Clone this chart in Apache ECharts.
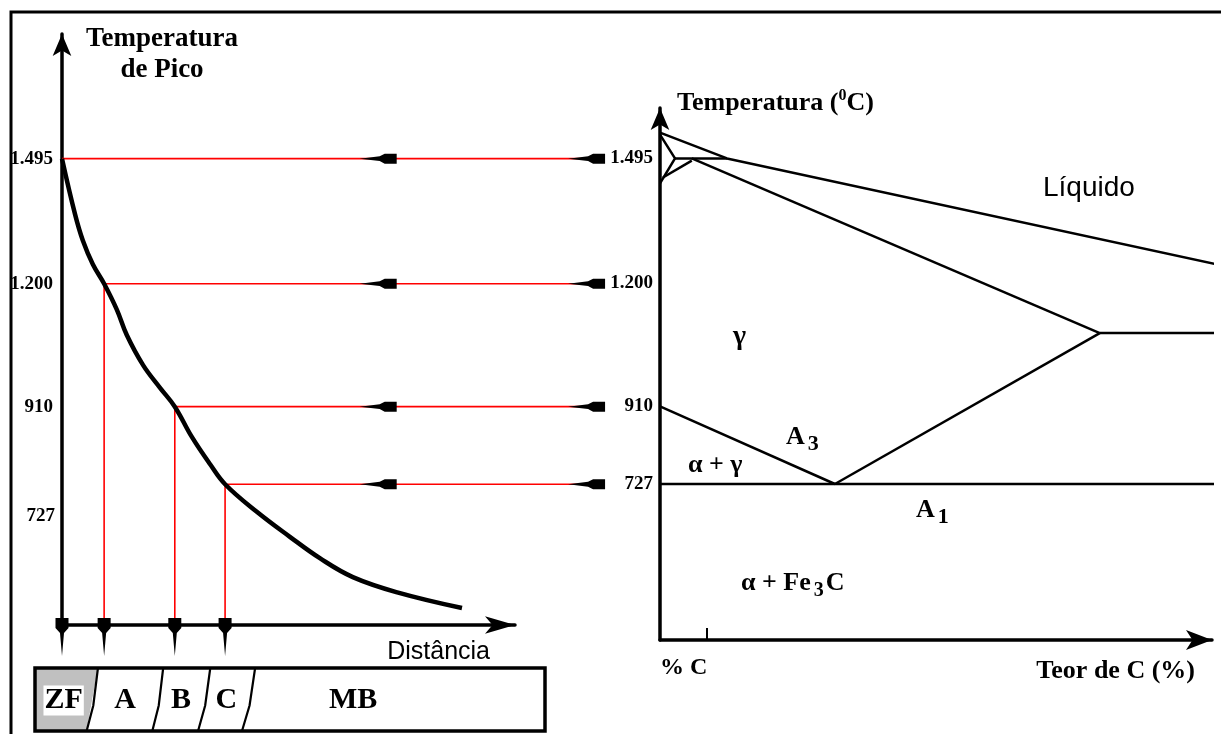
<!DOCTYPE html>
<html><head><meta charset="utf-8">
<script src="https://cdn.jsdelivr.net/npm/echarts@6/dist/echarts.min.js"></script>
<style>html,body{margin:0;padding:0;background:#fff}#c{width:1221px;height:734px}</style>
</head><body><div id="c"></div>
<script>
// ---------------- data ----------------
// temperature levels (°C) marked on both temperature axes
const tempLevels = [727, 910, 1200, 1495];
// distance (arbitrary units) where the peak-temperature curve reaches each level
const levelDistance = [36.0, 24.9, 9.3, 0];
// peak temperature vs distance from the fusion line
const curveDistance = [0, 2.9, 4.6, 6.8, 9.3, 12.1, 14.3, 17.9, 21.6, 24.9, 28.7, 32.7, 36.0, 43.0, 50.3, 57.0, 64.2, 74.0, 88.3];
const curvePeakTemp = [1495, 1363, 1302, 1246, 1200, 1139, 1079, 1008, 955, 910, 838, 774, 727, 662, 603, 552, 508, 472, 435];
// weld zones (distance of zone borders at top and bottom of the strip)
const zoneNames = ['ZF', 'A', 'B', 'C', 'MB'];
const zoneEdgeTop = [-6.0, 7.9, 22.3, 32.7, 42.6, 106.6];
const zoneEdgeBottom = [-6.0, 5.4, 19.9, 30.0, 39.7, 106.6];
// Fe-C diagram boundaries [%C, °C] (schematic)
const liquidus = [[0, 1556], [0.295, 1495], [2.47, 1243]];
const deltaLimit = [[0, 1551], [0.066, 1495], [0, 1436]];
const deltaGammaLimit = [[0.013, 1450], [0.14, 1490]];
const peritectic = [[0.066, 1495], [0.295, 1495]];
const solidus = [[0.14, 1495], [1.936, 1083]];
const eutectic = [[1.936, 1083], [2.47, 1083]];
const acm = [[0.77, 727], [1.936, 1083]];
const a3 = [[0, 910], [0.77, 727]];
const a1 = [[0, 727], [2.47, 727]];

// ---------------- rendering ----------------
const SERIF = 'Liberation Serif', SANS = 'Liberation Sans';
const LEFT_MIN = 395, LEFT_MAX = 1789, RIGHT_MIN = 359, RIGHT_MAX = 1614;
const GUIDE_END = 119.4, ARROW_AT = [69.8, 115.8];
const fmtT = v => v >= 1000 ? Math.floor(v / 1000) + '.' + String(v % 1000).padStart(3, '0') : String(v);
const tickFont = { fontFamily: SERIF, fontWeight: 'bold', fontSize: 19, color: '#000' };
const LEFT_ARROW = 'path://M0,5 L20,2.6 L25,0 L37,0 L37,10 L25,10 L20,7.4 Z';
const DOWN_ARROW = 'path://M0,0 L13,0 L13,10 L8.5,15 L6.5,38 L4.5,15 L0,10 Z';

const chart = echarts.init(document.getElementById('c'));

const feC = { liquidus, deltaLimit, deltaGammaLimit, peritectic, solidus, eutectic, acm, a3, a1 };
const feSeries = Object.keys(feC).map(k => ({
  type: 'line', name: k, xAxisIndex: 1, yAxisIndex: 2, data: feC[k], clip: false,
  showSymbol: false, symbol: 'none', silent: true, z: 4,
  lineStyle: { color: '#000', width: 2.5 }
}));

const option = {
  animation: false,
  textStyle: { fontFamily: SERIF },
  grid: [
    { left: 62, top: 34, width: 453, height: 591, containLabel: false, outerBoundsMode: 'none' },
    { left: 660, top: 108, width: 552, height: 532, containLabel: false, outerBoundsMode: 'none' },
    { left: 35, top: 668, width: 510, height: 63, containLabel: false, outerBoundsMode: 'none' }
  ],
  xAxis: [
    { gridIndex: 0, type: 'value', min: 0, max: 100,
      axisLine: { onZero: false, symbol: ['none', 'arrow'], symbolSize: [13, 30], lineStyle: { color: '#000', width: 3.5 } },
      axisTick: { show: false }, axisLabel: { show: false }, splitLine: { show: false },
      name: 'Distância', nameLocation: 'end', nameGap: -25,
      nameTextStyle: { fontFamily: SANS, fontSize: 25, color: '#000', align: 'right', verticalAlign: 'top', padding: [15, 0, 0, 0] } },
    { gridIndex: 1, type: 'value', min: 0, max: 2.43,
      axisLine: { onZero: false, symbol: ['none', 'arrow'], symbolSize: [15, 26], lineStyle: { color: '#000', width: 3.5 } },
      axisTick: { show: true, inside: true, length: 12, customValues: [0.207], lineStyle: { color: '#000', width: 2 } },
      axisLabel: { customValues: [0], formatter: () => '% C', align: 'left', margin: 16, fontFamily: SERIF, fontWeight: 'bold', fontSize: 24, color: '#000' },
      splitLine: { show: false },
      name: 'Teor de C (%)', nameLocation: 'end', nameGap: -17,
      nameTextStyle: { fontFamily: SERIF, fontWeight: 'bold', fontSize: 26, color: '#000', align: 'right', verticalAlign: 'top', padding: [18, 0, 0, 0] } },
    { gridIndex: 2, type: 'value', min: -6.0, max: 106.6, show: false }
  ],
  yAxis: [
    { gridIndex: 0, type: 'value', min: LEFT_MIN, max: LEFT_MAX, position: 'left',
      axisLine: { onZero: false, symbol: ['none', 'arrow'], symbolSize: [14, 22], lineStyle: { color: '#000', width: 3.5 } },
      axisTick: { show: false }, splitLine: { show: false },
      axisLabel: Object.assign({ customValues: [910, 1200, 1495], formatter: fmtT, margin: 9 }, tickFont),
      name: 'Temperatura\nde Pico', nameLocation: 'end', nameGap: 10,
      nameTextStyle: { fontFamily: SERIF, fontWeight: 'bold', fontSize: 27, lineHeight: 31, color: '#000', align: 'center', verticalAlign: 'top', padding: [0, 0, 0, 200] } },
    { gridIndex: 0, type: 'value', min: LEFT_MIN, max: LEFT_MAX, position: 'left', offset: 0,
      axisLine: { show: false }, axisTick: { show: false }, splitLine: { show: false },
      axisLabel: Object.assign({ customValues: [727], formatter: v => '\n' + fmtT(v), margin: 7, lineHeight: 64 }, tickFont) },
    { gridIndex: 1, type: 'value', min: RIGHT_MIN, max: RIGHT_MAX, position: 'left',
      axisLine: { onZero: false, symbol: ['none', 'arrow'], symbolSize: [14, 22], lineStyle: { color: '#000', width: 3.5 } },
      axisTick: { show: false }, splitLine: { show: false },
      axisLabel: Object.assign({ customValues: tempLevels, formatter: fmtT, margin: 7 }, tickFont),
      name: '{a|Temperatura (}{s|0}{a|C)}', nameLocation: 'end', nameGap: 5,
      nameTextStyle: { align: 'left', verticalAlign: 'middle', padding: [0, 0, 0, 17],
        rich: { a: { fontFamily: SERIF, fontWeight: 'bold', fontSize: 26, color: '#000', lineHeight: 30 },
                s: { fontFamily: SERIF, fontWeight: 'bold', fontSize: 16, color: '#000', verticalAlign: 'top', lineHeight: 16 } } } },
    { gridIndex: 2, type: 'value', min: 0, max: 1, show: false }
  ],
  series: [
    { type: 'custom', name: 'linhas de referência', xAxisIndex: 0, yAxisIndex: 0, clip: false, silent: true, z: 3,
      data: tempLevels.map((t, i) => [levelDistance[i], t]),
      renderItem: function (params, api) {
        const d = api.value(0), t = api.value(1);
        const pts = [api.coord([GUIDE_END, t]), api.coord([d, t])];
        if (d > 0) pts.push(api.coord([d, LEFT_MIN]));
        return { type: 'polyline', shape: { points: pts }, style: { stroke: '#ff0000', lineWidth: 1.6, fill: null } };
      } },
    { type: 'line', name: 'Temperatura de pico', xAxisIndex: 0, yAxisIndex: 0, smooth: 0.4,
      data: curveDistance.map((d, i) => [d, curvePeakTemp[i]]),
      showSymbol: false, symbol: 'none', silent: true, z: 5,
      lineStyle: { color: '#000', width: 4.5 } },
    { type: 'scatter', name: 'setas horizontais', xAxisIndex: 0, yAxisIndex: 0, clip: false, silent: true, z: 6,
      data: tempLevels.flatMap(t => ARROW_AT.map(d => [d, t])),
      symbol: LEFT_ARROW, symbolSize: [37, 10], symbolKeepAspect: false, itemStyle: { color: '#000', opacity: 1 } },
    { type: 'scatter', name: 'setas verticais', xAxisIndex: 0, yAxisIndex: 0, clip: false, silent: true, z: 6,
      data: levelDistance.map(d => [d, LEFT_MIN]),
      symbol: DOWN_ARROW, symbolSize: [13, 38], symbolOffset: [0, 12], itemStyle: { color: '#000', opacity: 1 } },
    ...feSeries,
    { type: 'custom', name: 'zonas', xAxisIndex: 2, yAxisIndex: 3, silent: true, clip: false, z: 4,
      data: zoneNames.map((n, i) => ({ name: n, value: [zoneEdgeTop[i], zoneEdgeTop[i + 1]] })),
      renderItem: function (params, api) {
        const i = params.dataIndex;
        const tl = api.coord([zoneEdgeTop[i], 1]), tr = api.coord([zoneEdgeTop[i + 1], 1]);
        const bl = api.coord([zoneEdgeBottom[i], 0]), br = api.coord([zoneEdgeBottom[i + 1], 0]);
        const children = [{ type: 'polygon', z2: 0, shape: { points: [tl, tr, br, bl] }, style: { fill: i === 0 ? '#c0c0c0' : '#fff' } }];
        if (i < zoneNames.length - 1) {
          const mid = [(tr[0] + br[0]) / 2 + 1, (tr[1] + br[1]) / 2 + 6];
          children.push({ type: 'polyline', z2: 20, shape: { points: [tr, mid, br] }, style: { stroke: '#000', lineWidth: 2.2, fill: null } });
        }
        const last = i === zoneNames.length - 1;
        const cx = last ? tl[0] + 98 : (tl[0] + tr[0] + bl[0] + br[0]) / 4;
        children.push({ type: 'text', z2: 30, x: cx, y: (tl[1] + bl[1]) / 2 + 1,
          style: { text: zoneNames[i], align: 'center', verticalAlign: 'middle', fill: '#000',
            font: 'bold 30px "Liberation Serif"', backgroundColor: i === 0 ? '#fff' : null, padding: i === 0 ? [0, 1] : 0 } });
        if (last) {
          const cs = params.coordSys;
          children.push({ type: 'rect', z2: 40, shape: { x: cs.x, y: cs.y, width: cs.width, height: cs.height }, style: { stroke: '#000', lineWidth: 3.5, fill: null } });
        }
        return { type: 'group', children };
      } }
  ],
  graphic: [
    { type: 'polyline', shape: { points: [[11, 734], [11, 12], [1221, 12]] }, style: { stroke: '#000', lineWidth: 3, fill: null }, z: 100 },
    { type: 'text', x: 1043, y: 188, style: { text: 'Líquido', font: '28px "Liberation Sans"', fill: '#000', verticalAlign: 'middle' } },
    { type: 'text', x: 733, y: 337, style: { text: 'γ', font: 'bold 28px "Liberation Serif"', fill: '#000', verticalAlign: 'middle' } },
    { type: 'text', x: 786, y: 437, style: { text: '{a|A}{s|3}', fill: '#000', verticalAlign: 'middle',
        rich: { a: { fontFamily: SERIF, fontWeight: 'bold', fontSize: 26, lineHeight: 36 }, s: { fontFamily: SERIF, fontWeight: 'bold', fontSize: 22, lineHeight: 20, verticalAlign: 'bottom', padding: [0, 0, 0, 3] } } } },
    { type: 'text', x: 688, y: 465, style: { text: 'α + γ', font: 'bold 26px "Liberation Serif"', fill: '#000', verticalAlign: 'middle' } },
    { type: 'text', x: 916, y: 510, style: { text: '{a|A}{s|1}', fill: '#000', verticalAlign: 'middle',
        rich: { a: { fontFamily: SERIF, fontWeight: 'bold', fontSize: 26, lineHeight: 36 }, s: { fontFamily: SERIF, fontWeight: 'bold', fontSize: 22, lineHeight: 20, verticalAlign: 'bottom', padding: [0, 0, 0, 3] } } } },
    { type: 'text', x: 741, y: 583, style: { text: '{a|α + Fe}{s|3}{a|C}', fill: '#000', verticalAlign: 'middle',
        rich: { a: { fontFamily: SERIF, fontWeight: 'bold', fontSize: 26, lineHeight: 36 }, s: { fontFamily: SERIF, fontWeight: 'bold', fontSize: 20, lineHeight: 20, verticalAlign: 'bottom', padding: [0, 2, 0, 3] } } } }
  ]
};
chart.setOption(option);
</script></body></html>
